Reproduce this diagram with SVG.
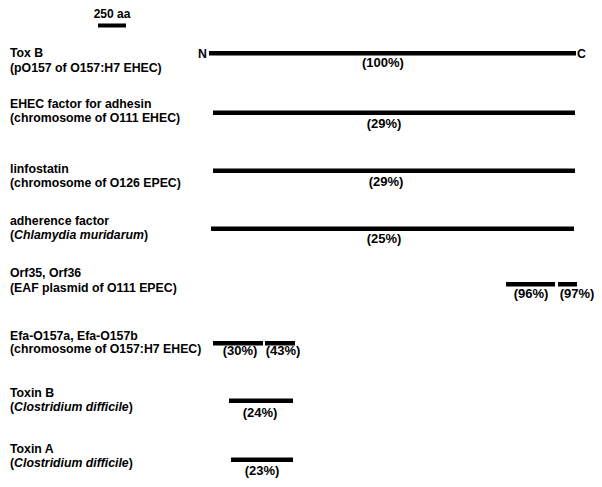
<svg xmlns="http://www.w3.org/2000/svg" width="602" height="487" viewBox="0 0 602 487">
<style>
text{font-family:"Liberation Sans",Arial,sans-serif;font-weight:bold;font-size:12.3px;fill:#000}
.p{text-anchor:middle;font-size:13px}
.bar{fill:#000}
</style>
<rect width="602" height="487" fill="#fff"/>
<g id="scale">
<text x="112" y="18" class="p" style="font-size:12px">250 aa</text>
<rect class="bar" x="98" y="23.5" width="28" height="4"/>
</g>
<g id="toxb">
<text x="10" y="57">Tox B</text>
<text x="10" y="72">(pO157 of O157:H7 EHEC)</text>
<text x="198" y="58">N</text>
<text x="577" y="58">C</text>
<rect class="bar" x="209" y="51" width="367" height="4.5"/>
<text x="383" y="67" class="p">(100%)</text>
</g>
<g id="efa">
<text x="10" y="108">EHEC factor for adhesin</text>
<text x="10" y="122">(chromosome of O111 EHEC)</text>
<rect class="bar" x="213" y="110.5" width="362" height="4.5"/>
<text x="384" y="128" class="p">(29%)</text>
</g>
<g id="linfostatin">
<text x="10" y="173">linfostatin</text>
<text x="10" y="187">(chromosome of O126 EPEC)</text>
<rect class="bar" x="213" y="168.5" width="362" height="4.5"/>
<text x="386" y="186" class="p">(29%)</text>
</g>
<g id="adherence">
<text x="10" y="225">adherence factor</text>
<text x="10" y="239">(<tspan font-style="italic">Chlamydia muridarum</tspan>)</text>
<rect class="bar" x="211" y="226.5" width="363" height="4.5"/>
<text x="384" y="243" class="p">(25%)</text>
</g>
<g id="orf">
<text x="10" y="277">Orf35, Orf36</text>
<text x="10" y="292">(EAF plasmid of O111 EPEC)</text>
<rect class="bar" x="506" y="282" width="49" height="4.5"/>
<rect class="bar" x="558" y="282" width="19" height="4.5"/>
<text x="531" y="298" class="p">(96%)</text>
<text x="577" y="298" class="p">(97%)</text>
</g>
<g id="efa0157">
<text x="10" y="340">Efa-O157a, Efa-O157b</text>
<text x="10" y="353">(chromosome of O157:H7 EHEC)</text>
<rect class="bar" x="213" y="341" width="50" height="4.5"/>
<rect class="bar" x="265" y="341" width="30" height="4.5"/>
<text x="240" y="355" class="p">(30%)</text>
<text x="283" y="355" class="p">(43%)</text>
</g>
<g id="toxinb">
<text x="10" y="397">Toxin B</text>
<text x="10" y="411">(<tspan font-style="italic">Clostridium difficile</tspan>)</text>
<rect class="bar" x="229" y="398.5" width="64" height="4.5"/>
<text x="260" y="417" class="p">(24%)</text>
</g>
<g id="toxina">
<text x="10" y="453">Toxin A</text>
<text x="10" y="467">(<tspan font-style="italic">Clostridium difficile</tspan>)</text>
<rect class="bar" x="231" y="457.5" width="62" height="4.5"/>
<text x="262" y="475" class="p">(23%)</text>
</g>
<g id="connectors"></g>
</svg>
